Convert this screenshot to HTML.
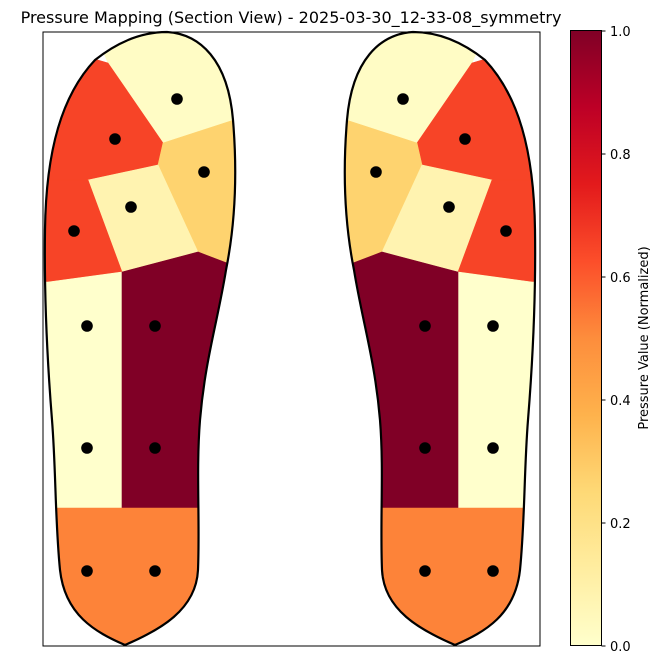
<!DOCTYPE html>
<html><head><meta charset="utf-8"><style>
body{margin:0;background:#fff;}
svg{display:block;font-family:"DejaVu Sans","Liberation Sans",sans-serif;}
</style></head><body>
<svg id="chart" width="661" height="665" viewBox="0 0 661 665">
<defs>
<clipPath id="footClip"><path id="footPathClip" d=""/></clipPath>
<linearGradient id="cbGrad" x1="0" y1="1" x2="0" y2="0">
<stop offset="0" stop-color="#ffffcc"/><stop offset="0.125" stop-color="#ffeda0"/><stop offset="0.25" stop-color="#fed976"/><stop offset="0.375" stop-color="#feb24c"/><stop offset="0.5" stop-color="#fd8d3c"/><stop offset="0.625" stop-color="#fc4e2a"/><stop offset="0.75" stop-color="#e31a1c"/><stop offset="0.875" stop-color="#bd0026"/><stop offset="1" stop-color="#800026"/>
</linearGradient>
</defs>
<text x="291" y="23" font-size="16" text-anchor="middle" fill="#000">Pressure Mapping (Section View) - 2025-03-30_12-33-08_symmetry</text>
<rect x="43" y="32" width="497" height="614" fill="none" stroke="#000" stroke-width="1"/>
<g id="feet"></g>
<rect x="570.5" y="30.5" width="31" height="615" fill="url(#cbGrad)" stroke="#000" stroke-width="1"/>
<g id="cbTicks"></g>
<text transform="translate(648,338) rotate(-90)" font-size="13" text-anchor="middle" fill="#000">Pressure Value (Normalized)</text>
</svg>
<script>
// region values (normalized pressure) per sensor region, left foot; right foot mirrored
const regionNames = ["toe-top","forefoot-outer","forefoot-inner-right","forefoot-mid","forefoot-lower-left","midfoot-left","midfoot-right","heel"];
const regionValues = [0.02, 0.65, 0.27, 0.08, 0.65, 0.0, 1.0, 0.52];
const cbTicks = [0.0, 0.2, 0.4, 0.6, 0.8, 1.0];
const cbTickLabels = ["0.0","0.2","0.4","0.6","0.8","1.0"];

const NS="http://www.w3.org/2000/svg";
const stops=["#ffffcc","#ffeda0","#fed976","#feb24c","#fd8d3c","#fc4e2a","#e31a1c","#bd0026","#800026"];
function hex(c){return [1,3,5].map(i=>parseInt(c.substr(i,2),16));}
function cmap(v){v=Math.max(0,Math.min(1,v));const p=v*8,i=Math.min(7,Math.floor(p)),t=p-i;const a=hex(stops[i]),b=hex(stops[i+1]);return "rgb("+a.map((x,k)=>Math.round(x+(b[k]-x)*t)).join(",")+")";}
function cbY(v){return 646-v*615;}

const outline="M167,32 C200,34 228,60 233,120 C238,180 234,230 226,270 C218,320 205,360 200,420 C196,470 200,520 198,570 C196,610 160,630 125,645 C95,632 65,615 60,570 C55,520 56,470 52,420 C48,370 44,300 45,230 C46,150 62,95 95,60 C120,40 145,32 167,32 Z";
const regionPolys=[
 "108,63 163,143 240,118 240,20 90,20",
 "108,63 163,143 158,165 88,180 122,272 48,282 30,282 30,40",
 "163,143 240,118 240,265 227,263 198,252 158,165",
 "88,180 158,165 198,252 122,272",
 "88,180 122,272 48,282 30,282 30,180",
 "30,282 48,282 122,272 122,508 30,508",
 "122,272 198,252 227,263 240,265 240,508 122,508",
 "30,508 240,508 240,660 30,660"
];
const dotsX=[177,115,204,131,74,87,155,87,155,87,155];
const dotsY=[99,139,172,207,231,326,326,448,448,571,571];

const feet=document.getElementById("feet");
document.getElementById("footPathClip").setAttribute("d",outline);
["left","right"].forEach((side)=>{
  const g=document.createElementNS(NS,"g");
  
  
  if(side==="right") g.setAttribute("transform","translate(580,0) scale(-1,1)");
  const rg=document.createElementNS(NS,"g");
  rg.setAttribute("clip-path","url(#footClip)");
  regionPolys.forEach((pts,i)=>{
    const p=document.createElementNS(NS,"polygon");
    p.setAttribute("points",pts);
    p.setAttribute("fill",cmap(regionValues[i]));
    p.setAttribute("stroke",cmap(regionValues[i]));
    p.setAttribute("stroke-width","0.6");
    
    
    rg.appendChild(p);
  });
  g.appendChild(rg);
  const o=document.createElementNS(NS,"path");
  o.setAttribute("d",outline);o.setAttribute("fill","none");o.setAttribute("stroke","#000");o.setAttribute("stroke-width","2.2");
  
  
  g.appendChild(o);
  dotsX.forEach((x,i)=>{
    const c=document.createElementNS(NS,"circle");
    c.setAttribute("cx",x);c.setAttribute("cy",dotsY[i]);c.setAttribute("r","5.8");c.setAttribute("fill","#000");
    
    
    g.appendChild(c);
  });
  feet.appendChild(g);
});

const tk=document.getElementById("cbTicks");
cbTicks.forEach((v,i)=>{
  const y=cbY(v);
  const l=document.createElementNS(NS,"line");
  l.setAttribute("x1",601.5);l.setAttribute("x2",605.5);l.setAttribute("y1",y);l.setAttribute("y2",y);l.setAttribute("stroke","#000");
  
  
  tk.appendChild(l);
  const t=document.createElementNS(NS,"text");
  t.setAttribute("x",610);t.setAttribute("y",y+5);t.setAttribute("font-size","13");
  t.textContent=cbTickLabels[i];
  
  
  tk.appendChild(t);
});
</script>
</body></html>
